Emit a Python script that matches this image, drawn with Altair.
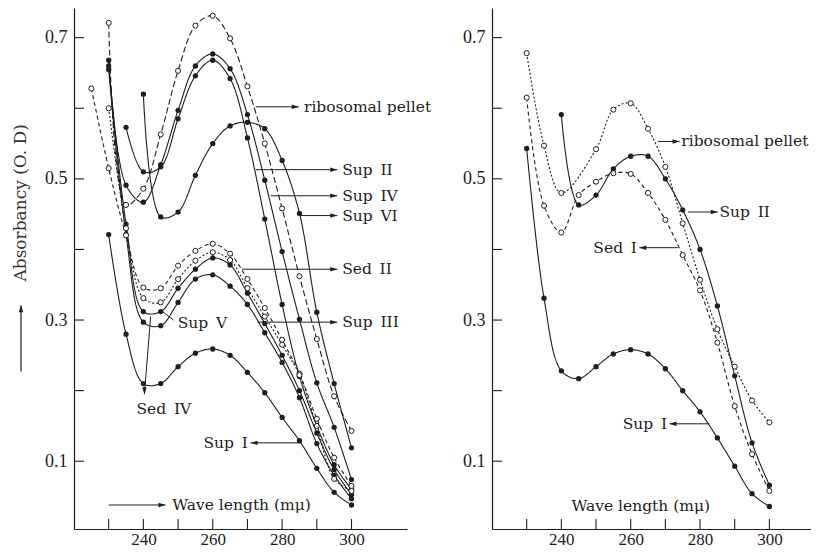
import altair as alt
import pandas as pd

INK = "#1e1e1e"
TXT_FONT = "DejaVu Serif"
NUM_FONT = "Liberation Serif"

# ---------------- axis values ----------------
X_LABELS = [240, 260, 280, 300]
X_TICKS = [230, 240, 250, 260, 270, 280, 290, 300]
Y_LABELS = [0.1, 0.3, 0.5, 0.7]
Y_TICKS = [0.1, 0.2, 0.3, 0.4, 0.5, 0.6, 0.7]
Y_DOMAIN = [0.004, 0.742]

# ---------------- left panel curves ----------------
L_ribo_wl = [230, 235, 240, 245, 250, 255, 260, 265, 270, 275, 280, 285, 290, 295, 300]
L_ribo_A = [0.721, 0.463, 0.486, 0.563, 0.653, 0.717, 0.731, 0.699, 0.631, 0.550, 0.458, 0.362, 0.273, 0.192, 0.143]

L_sed2_wl = [225, 230, 235, 240, 245, 250, 255, 260, 265, 270, 275, 280, 285, 290, 295, 300]
L_sed2_A = [0.628, 0.515, 0.420, 0.346, 0.345, 0.377, 0.398, 0.408, 0.394, 0.358, 0.317, 0.272, 0.224, 0.160, 0.105, 0.065]

L_sed4_wl = [230, 235, 240, 245, 250, 255, 260, 265, 270, 275, 280, 285, 290, 295, 300]
L_sed4_A = [0.600, 0.430, 0.331, 0.325, 0.358, 0.384, 0.396, 0.385, 0.345, 0.305, 0.265, 0.222, 0.150, 0.075, 0.058]

L_sup5_wl = [230, 235, 240, 245, 250, 255, 260, 265, 270, 275, 280, 285, 290, 295, 300]
L_sup5_A = [0.660, 0.436, 0.312, 0.312, 0.345, 0.372, 0.388, 0.378, 0.338, 0.295, 0.250, 0.200, 0.140, 0.088, 0.053]

L_sup3_wl = [230, 235, 240, 245, 250, 255, 260, 265, 270, 275, 280, 285, 290, 295, 300]
L_sup3_A = [0.655, 0.421, 0.297, 0.292, 0.325, 0.358, 0.364, 0.348, 0.322, 0.282, 0.240, 0.190, 0.125, 0.080, 0.047]

L_sup4_wl = [230, 235, 240, 245, 250, 255, 260, 265, 270, 275, 280, 285, 290, 295, 300]
L_sup4_A = [0.668, 0.491, 0.467, 0.520, 0.597, 0.660, 0.677, 0.656, 0.591, 0.498, 0.397, 0.301, 0.211, 0.148, 0.074]

L_sup2_wl = [235, 240, 245, 250, 255, 260, 265, 270, 275, 280, 285, 290, 295, 300]
L_sup2_A = [0.573, 0.510, 0.517, 0.585, 0.646, 0.668, 0.642, 0.558, 0.443, 0.322, 0.220, 0.150, 0.095, 0.060]

L_sup6_wl = [240, 245, 250, 255, 260, 265, 270, 275, 280, 285, 290, 295, 300]
L_sup6_A = [0.620, 0.446, 0.453, 0.505, 0.550, 0.575, 0.580, 0.571, 0.526, 0.451, 0.311, 0.210, 0.119]

L_sup1_wl = [230, 235, 240, 245, 250, 255, 260, 265, 270, 275, 280, 285, 290, 295, 300]
L_sup1_A = [0.421, 0.280, 0.210, 0.210, 0.234, 0.253, 0.259, 0.250, 0.226, 0.197, 0.162, 0.129, 0.090, 0.056, 0.038]

# ---------------- right panel curves ----------------
R_ribo_wl = [230, 235, 240, 250, 255, 260, 265, 270, 275, 280, 285, 290, 295, 300]
R_ribo_A = [0.678, 0.547, 0.480, 0.542, 0.598, 0.607, 0.571, 0.517, 0.437, 0.357, 0.287, 0.234, 0.186, 0.155]

R_sed1_wl = [230, 235, 240, 245, 250, 255, 260, 265, 270, 275, 280, 285, 290, 295, 300]
R_sed1_A = [0.615, 0.462, 0.424, 0.477, 0.496, 0.508, 0.507, 0.480, 0.442, 0.392, 0.342, 0.268, 0.178, 0.110, 0.058]

R_sup2_wl = [240, 245, 250, 255, 260, 265, 270, 275, 280, 285, 290, 295, 300]
R_sup2_A = [0.591, 0.463, 0.477, 0.514, 0.532, 0.532, 0.500, 0.456, 0.400, 0.320, 0.221, 0.126, 0.066]

R_sup1_wl = [230, 235, 240, 245, 250, 255, 260, 265, 270, 275, 280, 285, 290, 295, 300]
R_sup1_A = [0.543, 0.331, 0.228, 0.217, 0.234, 0.252, 0.258, 0.252, 0.231, 0.200, 0.170, 0.133, 0.093, 0.054, 0.036]

# ---------------- annotations (data coordinates) ----------------
L_arrow_x1 = [272.4, 272.4, 276.7, 285.3, 268.5, 272.9, 284.8, 230.0, 245.5, 242.1]
L_arrow_y1 = [0.602, 0.513, 0.476, 0.448, 0.372, 0.297, 0.126, 0.038, 0.312, 0.305]
L_arrow_x2 = [284.8, 295.9, 295.9, 295.9, 295.9, 295.9, 270.9, 246.4, 248.7, 240.3]
L_arrow_y2 = [0.602, 0.513, 0.476, 0.448, 0.372, 0.297, 0.126, 0.038, 0.300, 0.195]
L_arrow_head = ["r", "r", "r", "r", "r", "r", "l", "r", "", "d"]

L_text_left = ["ribosomal pellet", "Sup\u2002II", "Sup\u2002IV", "Sup\u2002VI", "Sed\u2002II", "Sup\u2002III",
               "Sup\u2002V", "Wave length (m\u03bc)"]
L_text_left_x = [286.3, 297.3, 297.3, 297.3, 297.3, 297.3, 249.9, 248.3]
L_text_left_y = [0.602, 0.513, 0.476, 0.448, 0.372, 0.297, 0.296, 0.038]
L_text_right = ["Sup\u2002I"]
L_text_right_x = [270.1]
L_text_right_y = [0.126]
L_text_center = ["Sed\u2002IV"]
L_text_center_x = [245.9]
L_text_center_y = [0.174]

R_arrow_x1 = [267.8, 276.5, 273.6, 282.7]
R_arrow_y1 = [0.553, 0.453, 0.4025, 0.153]
R_arrow_x2 = [274.1, 285.1, 262.5, 271.2]
R_arrow_y2 = [0.553, 0.453, 0.4025, 0.153]
R_arrow_head = ["r", "r", "l", "l"]

R_text_left = ["ribosomal pellet", "Sup\u2002II", "Wave length (m\u03bc)"]
R_text_left_x = [274.6, 285.6, 242.9]
R_text_left_y = [0.553, 0.453, 0.037]
R_text_right = ["Sed\u2002I", "Sup\u2002I"]
R_text_right_x = [261.8, 270.5]
R_text_right_y = [0.4025, 0.153]

Y_TITLE = "Absorbancy (O. D)"
Y_TITLE_Y = 0.466
Y_TITLE_ARROW = [0.227, 0.321]

DASHES = {"solid": [1, 0], "longdash": [6, 3], "dash": [4, 3], "dot": [2, 2]}
HEAD_PATHS = {
    "r": "M0,0L-1,-0.32L-1,0.32Z",
    "l": "M0,0L1,-0.32L1,0.32Z",
    "d": "M0,0L-0.32,-1L0.32,-1Z",
    "u": "M0,0L-0.32,1L0.32,1Z",
}

LEFT_CURVES = [
    ("ribosomal pellet", L_ribo_wl, L_ribo_A, "longdash", "open"),
    ("Sed II", L_sed2_wl, L_sed2_A, "dash", "open"),
    ("Sed IV", L_sed4_wl, L_sed4_A, "dot", "open"),
    ("Sup V", L_sup5_wl, L_sup5_A, "solid", "filled"),
    ("Sup III", L_sup3_wl, L_sup3_A, "solid", "filled"),
    ("Sup IV", L_sup4_wl, L_sup4_A, "solid", "filled"),
    ("Sup II", L_sup2_wl, L_sup2_A, "solid", "filled"),
    ("Sup VI", L_sup6_wl, L_sup6_A, "solid", "filled"),
    ("Sup I", L_sup1_wl, L_sup1_A, "solid", "filled"),
]
RIGHT_CURVES = [
    ("ribosomal pellet", R_ribo_wl, R_ribo_A, "dot", "open"),
    ("Sed I", R_sed1_wl, R_sed1_A, "dash", "open"),
    ("Sup II", R_sup2_wl, R_sup2_A, "solid", "filled"),
    ("Sup I", R_sup1_wl, R_sup1_A, "solid", "filled"),
]


def curves_df(curves):
    rows = []
    for name, wl, ab, dash, marker in curves:
        for w, a in zip(wl, ab):
            rows.append({"series": name, "wl": w, "A": a, "dash": dash, "marker": marker})
    return pd.DataFrame(rows)


def panel(curves, ax1, ay1, ax2, ay2, ahead, tl, tlx, tly, tr, trx, tr_y, tc, tcx, tcy,
          xmax, width, height, with_title=False):
    xs = alt.Scale(domain=[220, xmax], nice=False, zero=False)
    ys = alt.Scale(domain=Y_DOMAIN, nice=False, zero=False)
    xaxis = alt.Axis(values=X_LABELS, title=None, ticks=False, tickSize=0, labelPadding=2,
                     grid=False, labelFont=NUM_FONT, labelFontSize=17, labelColor=INK,
                     domainColor=INK, domainWidth=1.2, labelFlush=False)
    yaxis = alt.Axis(values=Y_LABELS, format=".1f", title=None, ticks=False, tickSize=0,
                     labelPadding=7, grid=False, labelFont=NUM_FONT, labelFontSize=18,
                     labelColor=INK, domainColor=INK, domainWidth=1.2, labelFlush=False)

    def X(field):
        return alt.X(field, scale=xs, axis=xaxis)

    def Y(field):
        return alt.Y(field, scale=ys, axis=yaxis)

    df = curves_df(curves)
    layers = []
    for style, dash in DASHES.items():
        sub = df[df["dash"] == style]
        if sub.empty:
            continue
        layers.append(
            alt.Chart(sub).mark_line(interpolate="catmull-rom", strokeDash=dash, color=INK,
                                     strokeWidth=1.1)
            .encode(x=X("wl:Q"), y=Y("A:Q"), detail="series:N")
        )
    filled = df[df["marker"] == "filled"]
    opened = df[df["marker"] == "open"]
    layers.append(
        alt.Chart(filled).mark_circle(size=28, color=INK, opacity=1)
        .encode(x=X("wl:Q"), y=Y("A:Q"))
    )
    layers.append(
        alt.Chart(opened).mark_circle(size=26, fill="white", stroke=INK, strokeWidth=1, opacity=1)
        .encode(x=X("wl:Q"), y=Y("A:Q"))
    )
    # inward ticks
    layers.append(
        alt.Chart(pd.DataFrame({"yt": Y_TICKS})).mark_rule(color=INK, strokeWidth=1.1)
        .encode(y=Y("yt:Q"), x=alt.value(0), x2=alt.value(10))
    )
    layers.append(
        alt.Chart(pd.DataFrame({"xt": X_TICKS})).mark_rule(color=INK, strokeWidth=1.1)
        .encode(x=X("xt:Q"), y=alt.value(height), y2=alt.value(height - 10))
    )
    # arrows
    arr = pd.DataFrame({"x1": ax1, "y1": ay1, "x2": ax2, "y2": ay2, "head": ahead})
    layers.append(
        alt.Chart(arr).mark_rule(color=INK, strokeWidth=1)
        .encode(x=X("x1:Q"), x2="x2:Q", y=Y("y1:Q"), y2="y2:Q")
    )
    heads = arr[arr["head"] != ""].copy()
    heads["path"] = heads["head"].map(HEAD_PATHS)
    layers.append(
        alt.Chart(heads).mark_point(filled=True, size=196, color=INK, opacity=1, strokeWidth=0)
        .encode(x=X("x2:Q"), y=Y("y2:Q"), shape=alt.Shape("path:N", scale=None))
    )
    # texts
    for txt, tx, ty, align in ((tl, tlx, tly, "left"), (tr, trx, tr_y, "right"), (tc, tcx, tcy, "center")):
        if not txt:
            continue
        tdf = pd.DataFrame({"t": txt, "x": tx, "y": ty})
        layers.append(
            alt.Chart(tdf).mark_text(font=TXT_FONT, fontSize=15.5, color=INK, align=align,
                                     baseline="middle")
            .encode(x=X("x:Q"), y=Y("y:Q"), text="t:N")
        )
    if with_title:
        layers.append(
            alt.Chart(pd.DataFrame({"t": [Y_TITLE], "y": [Y_TITLE_Y]}))
            .mark_text(font=TXT_FONT, fontSize=17, color="#333", angle=270, align="center",
                       baseline="middle")
            .encode(x=alt.value(-53), y=Y("y:Q"), text="t:N")
        )
        layers.append(
            alt.Chart(pd.DataFrame({"y1": [Y_TITLE_ARROW[0]], "y2": [Y_TITLE_ARROW[1]]}))
            .mark_rule(color=INK, strokeWidth=1.2)
            .encode(x=alt.value(-53), y=Y("y1:Q"), y2="y2:Q")
        )
        layers.append(
            alt.Chart(pd.DataFrame({"y": [Y_TITLE_ARROW[1]], "path": [HEAD_PATHS["u"]]}))
            .mark_point(filled=True, size=196, color=INK, opacity=1, strokeWidth=0)
            .encode(x=alt.value(-53), y=Y("y:Q"), shape=alt.Shape("path:N", scale=None))
        )
    return alt.layer(*layers).properties(width=width, height=height)


H = 521
left = panel(LEFT_CURVES, L_arrow_x1, L_arrow_y1, L_arrow_x2, L_arrow_y2, L_arrow_head,
             L_text_left, L_text_left_x, L_text_left_y,
             L_text_right, L_text_right_x, L_text_right_y,
             L_text_center, L_text_center_x, L_text_center_y,
             xmax=316, width=333, height=H, with_title=True)
right = panel(RIGHT_CURVES, R_arrow_x1, R_arrow_y1, R_arrow_x2, R_arrow_y2, R_arrow_head,
              R_text_left, R_text_left_x, R_text_left_y,
              R_text_right, R_text_right_x, R_text_right_y,
              [], [], [],
              xmax=312, width=319, height=H)

chart = (
    alt.hconcat(left, right, spacing=85, bounds="flush")
    .properties(padding={"left": 4, "top": 0, "right": 0, "bottom": 0}, background="white")
    .configure_view(stroke=None)
)

chart.save("out.html", embed_options={"renderer": "svg", "actions": False})
